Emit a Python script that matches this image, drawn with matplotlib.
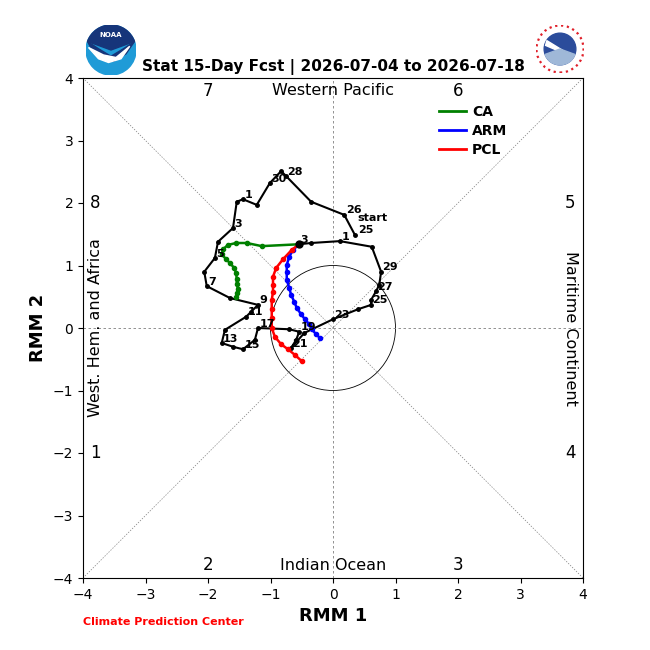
import numpy as np
import matplotlib
matplotlib.use("Agg")
import matplotlib.pyplot as plt
from matplotlib.patches import Circle, Polygon, Wedge
from matplotlib.lines import Line2D

# observed RMM (2026-05-25 .. 2026-07-03)
obs_rmm1 = [0.35, 0.18, -0.35, -0.75, -0.83, -1.01, -1.22, -1.44, -1.54, -1.60,
            -1.84, -1.89, -2.06, -2.02, -1.65, -1.20, -1.31, -1.39, -1.73, -1.78,
            -1.60, -1.44, -1.25, -1.20, -0.70, -0.54, -0.59, -0.67, -0.46, 0.00,
            0.40, 0.61, 0.61, 0.69, 0.74, 0.77, 0.62, 0.11, -0.35, -0.54]
obs_rmm2 = [1.49, 1.81, 2.02, 2.43, 2.51, 2.32, 1.97, 2.06, 2.02, 1.60,
            1.38, 1.12, 0.90, 0.67, 0.48, 0.37, 0.26, 0.18, -0.03, -0.24,
            -0.30, -0.34, -0.19, 0.00, -0.02, -0.06, -0.19, -0.32, -0.08, 0.14,
            0.30, 0.37, 0.45, 0.59, 0.69, 0.90, 1.30, 1.39, 1.36, 1.34]
obs_days = [25, 26, 27, 28, 29, 30, 31] + list(range(1, 31)) + [1, 2, 3]

# forecasts (start point + 15 days)
ca_rmm1 = [-0.54, -1.14, -1.38, -1.55, -1.68, -1.76, -1.78, -1.71, -1.65, -1.58,
           -1.55, -1.54, -1.54, -1.52, -1.54, -1.55]
ca_rmm2 = [1.34, 1.31, 1.36, 1.36, 1.33, 1.26, 1.18, 1.10, 1.04, 0.96,
           0.88, 0.78, 0.70, 0.62, 0.56, 0.50]
arm_rmm1 = [-0.54, -0.64, -0.70, -0.74, -0.74, -0.74, -0.70, -0.67, -0.62, -0.58,
            -0.51, -0.45, -0.38, -0.34, -0.27, -0.21]
arm_rmm2 = [1.34, 1.25, 1.14, 1.01, 0.90, 0.77, 0.64, 0.53, 0.42, 0.32,
            0.22, 0.14, 0.06, -0.02, -0.10, -0.16]
pcl_rmm1 = [-0.54, -0.66, -0.80, -0.91, -0.96, -0.96, -0.96, -0.98, -0.98, -0.98,
            -0.98, -0.93, -0.83, -0.72, -0.61, -0.50]
pcl_rmm2 = [1.34, 1.25, 1.10, 0.96, 0.82, 0.69, 0.58, 0.45, 0.30, 0.16,
            0.00, -0.14, -0.26, -0.34, -0.43, -0.53]

phase_nums = ["1", "2", "3", "4", "5", "6", "7", "8"]
phase_x = [-3.8, -2.0, 2.0, 3.8, 3.8, 2.0, -2.0, -3.8]
phase_y = [-2.0, -3.8, -3.8, -2.0, 2.0, 3.8, 3.8, 2.0]

fig = plt.figure(figsize=(6.5, 6.5), dpi=100)
ax = fig.add_axes([83 / 650, 72 / 650, 500 / 650, 500 / 650])
ax.set_xlim(-4, 4)
ax.set_ylim(-4, 4)

# guide lines
ax.plot([-4, 4], [0, 0], color="gray", linestyle="--", linewidth=0.6, dashes=(3, 3))
ax.plot([0, 0], [-4, 4], color="gray", linestyle="--", linewidth=0.6, dashes=(3, 3))
ax.plot([-4, 4], [-4, 4], color="gray", linestyle="--", linewidth=0.5, dashes=(2, 2))
ax.plot([-4, 4], [4, -4], color="gray", linestyle="--", linewidth=0.5, dashes=(2, 2))
ax.add_patch(Circle((0, 0), 1.0, fill=False, color="black", linewidth=0.6))

for num, px, py in zip(phase_nums, phase_x, phase_y):
    ax.text(px, py, num, fontsize=12, ha="center", va="center")

ax.text(0, 3.8, "Western Pacific", fontsize=11.5, ha="center", va="center")
ax.text(0, -3.8, "Indian Ocean", fontsize=11.5, ha="center", va="center")
ax.text(-3.8, 0, "West. Hem. and Africa", fontsize=11.5, ha="center", va="center", rotation=90)
ax.text(3.8, 0, "Maritime Continent", fontsize=11.5, ha="center", va="center", rotation=270)

# observed track
ax.plot(obs_rmm1, obs_rmm2, color="black", linewidth=1.5, marker="o", markersize=2.5)

# forecasts
ax.plot(ca_rmm1, ca_rmm2, color="green", linewidth=1.8, marker="o", markersize=3)
ax.plot(arm_rmm1, arm_rmm2, color="blue", linewidth=1.8, marker="o", markersize=3)
ax.plot(pcl_rmm1, pcl_rmm2, color="red", linewidth=1.8, marker="o", markersize=3)
ax.plot(obs_rmm1[-1], obs_rmm2[-1], "o", color="black", markersize=5)

# day labels
ax.annotate("start", (obs_rmm1[0], obs_rmm2[0]), xytext=(2, 10), textcoords="offset points",
            fontsize=8, fontweight="bold")
ax.annotate(str(obs_days[0]), (obs_rmm1[0], obs_rmm2[0]), xytext=(2, 1), textcoords="offset points",
            fontsize=8, fontweight="bold")
for i in range(1, len(obs_days), 2):
    ax.annotate(str(obs_days[i]), (obs_rmm1[i], obs_rmm2[i]), xytext=(1, 1),
                textcoords="offset points", fontsize=8, fontweight="bold")

handles = [Line2D([], [], color="green", linewidth=2),
           Line2D([], [], color="blue", linewidth=2),
           Line2D([], [], color="red", linewidth=2)]
ax.legend(handles, ["CA", "ARM", "PCL"], loc="upper left", bbox_to_anchor=(0.70, 0.957),
          frameon=False, prop={"weight": "bold", "size": 10},
          handlelength=2.0, handletextpad=0.4, borderaxespad=0.0, labelspacing=0.35)

ax.set_xticks(np.arange(-4, 5, 1))
ax.set_yticks(np.arange(-4, 5, 1))
ax.tick_params(labelsize=10)
ax.set_xlabel("RMM 1", fontsize=13, fontweight="bold")
ax.set_ylabel("RMM 2", fontsize=13, fontweight="bold")
ax.set_title("Stat 15-Day Fcst | 2026-07-04 to 2026-07-18", fontsize=11, fontweight="bold", pad=5)

fig.text(83 / 650, 1 - 622 / 650, "Climate Prediction Center", color="red", fontsize=8,
         fontweight="bold", va="center")

# NOAA logo
lax = fig.add_axes([86 / 650, 1 - 75 / 650, 50 / 650, 50 / 650])
lax.set_xlim(-1, 1)
lax.set_ylim(-1, 1)
lax.set_aspect("equal")
lax.axis("off")
lax.add_patch(Circle((0, 0), 1.0, color="#1f9bd7"))
lax.add_patch(Wedge((0, 0), 1.0, 20, 160, color="#16357a"))
lax.add_patch(Polygon([[-0.94, 0.34], [-0.5, 0.05], [0, -0.25], [0.5, 0.05], [0.94, 0.34],
                       [0.6, -0.15], [0.1, -0.45], [-0.3, -0.4], [-0.7, -0.1]], color="#16357a"))
lax.add_patch(Polygon([[-0.9, 0.1], [-0.3, -0.2], [0.2, -0.3], [0.75, 0.15], [0.4, -0.35],
                       [-0.1, -0.5], [-0.5, -0.35]], color="white"))
lax.text(0, 0.6, "NOAA", color="white", fontsize=5, fontweight="bold", ha="center", va="center")

# NWS logo
nax = fig.add_axes([536 / 650, 1 - 73 / 650, 48 / 650, 48 / 650])
nax.set_xlim(-1, 1)
nax.set_ylim(-1, 1)
nax.set_aspect("equal")
nax.axis("off")
nax.add_patch(Circle((0, 0), 0.98, fill=False, edgecolor="#e0202a", linewidth=1.6, linestyle=":"))
nax.add_patch(Circle((0, 0), 0.66, color="#2b4c9b"))
nax.add_patch(Polygon([[-0.55, 0.35], [0.1, -0.05], [0.5, -0.45], [0.1, -0.15], [-0.6, 0.15]],
                      color="white"))
nax.add_patch(Wedge((0, 0), 0.66, 200, 340, color="#9fb8d8"))

fig.savefig("out.png", dpi=100)
